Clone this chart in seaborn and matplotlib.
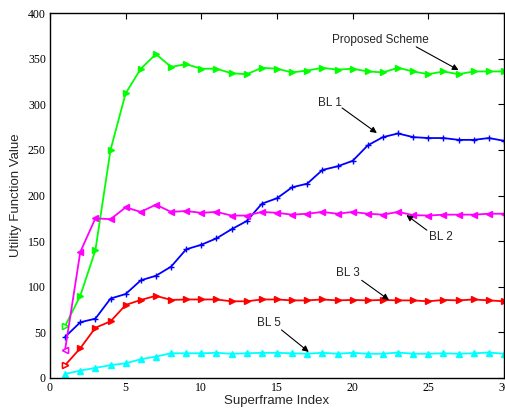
import matplotlib
matplotlib.use("Agg")
import matplotlib.pyplot as plt
import seaborn as sns
import numpy as np
import pandas as pd

x = list(range(1, 31))
proposed = [57, 90, 140, 250, 312, 339, 355, 341, 344, 339,
            339, 334, 333, 340, 339, 335, 337, 340, 338, 339,
            336, 335, 340, 336, 333, 336, 333, 336, 336, 336]
bl1 = [45, 61, 65, 87, 92, 107, 112, 122, 141, 146,
       153, 163, 172, 191, 197, 209, 213, 228, 232, 238,
       255, 264, 268, 264, 263, 263, 261, 261, 263, 260]
bl2 = [31, 138, 175, 174, 187, 182, 190, 182, 183, 181,
       182, 178, 178, 182, 181, 179, 180, 182, 180, 182,
       180, 179, 182, 178.5, 178, 179, 179, 179, 180, 180]
bl3 = [14, 32.5, 55, 62, 80, 85.5, 90, 85.5, 86, 86,
       86, 84, 84, 86, 86, 85, 85, 86, 85, 85.5,
       85, 85.5, 85, 85, 84, 85.5, 85, 86, 85, 84]
bl5 = [4.4, 8, 11, 14, 16, 20.5, 23.4, 27, 27, 27,
       27.5, 26.5, 27, 27.5, 27.5, 27, 26.5, 27.5, 26.5, 27.5,
       26.5, 26.5, 27.8, 26.5, 26.5, 27, 26.5, 27, 27.8, 26.5]

series_names = ["Proposed Scheme", "BL 1", "BL 2", "BL 3", "BL 5"]
series_vals = [proposed, bl1, bl2, bl3, bl5]
colors = ["#00ff00", "#0000ff", "#ff00ff", "#ff0000", "#00ffff"]
markers = [">", "+", "<", ">", "^"]
hollow_first = [True, False, True, True, False]

sns.set_style("white")
plt.rcParams['font.family'] = ['Liberation Sans', 'DejaVu Sans']

fig = plt.figure(figsize=(5.05, 4.09), dpi=100)
ax = fig.add_axes([0.099, 0.076, 0.899, 0.892])

for name, vals, c, m, hf in zip(series_names, series_vals, colors, markers, hollow_first):
    df = pd.DataFrame({"x": x, "y": vals})
    ms = 4.5 if m != "+" else 5
    sns.lineplot(data=df, x="x", y="y", ax=ax, color=c, marker=m,
                 markersize=ms, markeredgecolor=c,
                 markeredgewidth=1.0, linewidth=1.3, markerfacecolor=c,
                 legend=False)
    if hf:
        ax.plot(x[:1], vals[:1], linestyle="none", marker=m, markersize=ms,
                markerfacecolor="white", markeredgecolor=c, markeredgewidth=1.0)

ax.set_xlim(0, 30)
ax.set_ylim(0, 400)
ax.set_xticks(range(0, 31, 5))
ax.set_yticks(range(0, 401, 50))
ax.tick_params(direction="in", top=True, right=True, length=4, width=0.8,
               labelsize=8.5, pad=3, colors="black")
for lab in ax.get_xticklabels() + ax.get_yticklabels():
    lab.set_fontfamily("Liberation Serif")
for s in ax.spines.values():
    s.set_color("black")
    s.set_linewidth(1.0)

ax.set_xlabel("Superframe Index", fontsize=9.5, labelpad=1)
ax.set_ylabel("Utility Function Value", fontsize=9.5, labelpad=4)

arrow = dict(arrowstyle="-|>", color="black", lw=0.8, mutation_scale=9,
             shrinkA=0, shrinkB=0)
ann = [
    ("Proposed Scheme", (21.8, 370), (24.2, 363), (27.0, 337.5)),
    ("BL 1", (18.5, 301), (19.3, 296), (21.6, 268.5)),
    ("BL 2", (25.8, 154.5), (24.9, 162), (23.55, 178.6)),
    ("BL 3", (19.7, 115), (20.6, 107), (22.4, 85.5)),
    ("BL 5", (14.5, 60), (15.3, 52.6), (17.1, 28.5)),
]
for txt, tpos, tail, head in ann:
    ax.annotate("", xy=head, xytext=tail, arrowprops=arrow)
    ax.text(tpos[0], tpos[1], txt, fontsize=8.5, ha="center", va="center")

fig.savefig("out.png", dpi=100, facecolor="white")
